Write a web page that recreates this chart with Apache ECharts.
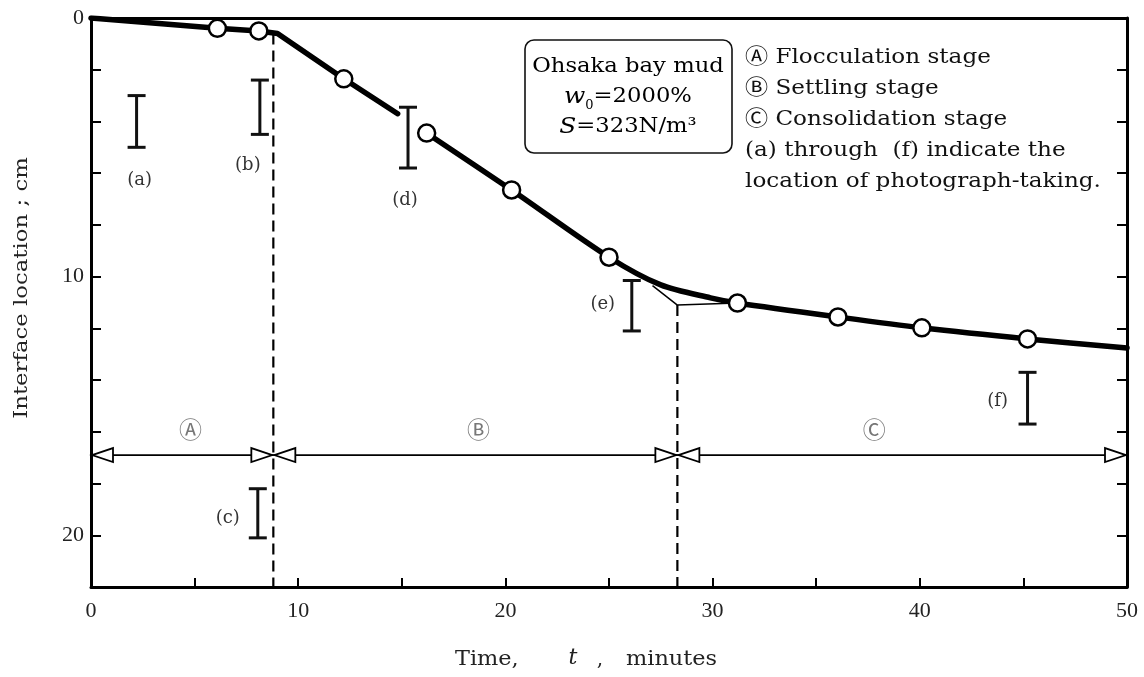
<!DOCTYPE html>
<html>
<head>
<meta charset="utf-8">
<script src="https://cdn.jsdelivr.net/npm/echarts@6/dist/echarts.min.js"></script>
<style>
html,body{margin:0;padding:0;background:#fff;}
#chart{width:1144px;height:677px;}
</style>
</head>
<body>
<div id="chart"></div>
<script>
// ---------- data ----------
const xTickLabels = ['0', '10', '20', '30', '40', '50'];
const yTickLabels = ['0', '10', '20'];

// measured interface positions (open circles)
const measuredTime  = [6.1, 8.1, 12.2, 16.2, 20.3, 25.0, 31.2, 36.05, 40.1, 45.2];
const measuredDepth = [0.4, 0.5, 2.35, 4.45, 6.65, 9.25, 11.02, 11.56, 11.98, 12.41];

// thick settling curve (two pieces, broken at the (d) photograph mark)
const curve1Time  = [0, 6.1, 8.1, 9.0, 12.2, 14.8];
const curve1Depth = [0, 0.4, 0.5, 0.6, 2.35, 3.7];
const curve2Time  = [16.1, 20.3, 25.0, 27.5, 29.9, 31.2, 36.05, 40.1, 45.2, 50];
const curve2Depth = [4.4, 6.65, 9.25, 10.32, 10.82, 11.02, 11.56, 11.98, 12.41, 12.76];

// thin construction line near the settling/consolidation transition
const thinTime  = [27.1, 28.3, 31.2];
const thinDepth = [10.35, 11.1, 11.02];

// photograph-taking locations
const photoLabels = ['(a)', '(b)', '(c)', '(d)', '(e)', '(f)'];
const photoTime   = [2.2, 8.15, 8.05, 15.3, 26.1, 45.2];
const photoTop    = [3.0, 2.4, 18.2, 3.45, 10.15, 13.7];
const photoBottom = [5.0, 4.5, 20.1, 5.8, 12.1, 15.7];

// stage boundaries
const stageBounds      = [0, 8.8, 28.3, 50];
const stageLabels      = ['\u24B6', '\u24B7', '\u24B8'];
const stageLabelTime   = [4.8, 18.7, 37.8];
const stageArrowDepth  = 16.9;
const stageLabelDepth  = 16.0;
const boundaryTopDepth = [0.6, 11.1];

// annotation texts
const noteLines = [
  '\u24B6 Flocculation stage',
  '\u24B7 Settling stage',
  '\u24B8 Consolidation stage',
  '(a) through  (f) indicate the',
  'location of photograph-taking.'
];
const yTitle = 'Interface location ; cm';

// ---------- chart ----------
const serif = "'Liberation Serif', 'DejaVu Serif', serif";
const wserif = "'DejaVu Serif', 'DejaVu Sans', 'Noto Sans CJK JP', serif";
const chart = echarts.init(document.getElementById('chart'));

const zip = (a, b) => a.map((v, i) => [v, b[i]]);

// pixel offsets of the photo labels relative to each bar's middle
const photoLabelOffset = [[3, 59], [-12, 58], [-30, 5], [-3, 63], [-29, -1], [-30, 3]];

const photoData = photoTime.map((t, i) => [t, photoTop[i], photoBottom[i]]);
const stageData = stageBounds.slice(0, -1).map((s, i) => [s, stageBounds[i + 1]]);

const axisLineStyle = { show: true, onZero: false, lineStyle: { color: '#000', width: 3 } };
const thickLine = { color: '#000', width: 5.5, cap: 'round', join: 'round' };

const option = {
  backgroundColor: '#fff',
  animation: false,
  grid: { left: 91, right: 17, top: 18, bottom: 90, containLabel: false },
  xAxis: [{
    type: 'value', min: 0, max: 50, interval: 5, position: 'bottom',
    axisLine: axisLineStyle,
    axisTick: { show: true, inside: true, length: 9, lineStyle: { color: '#000', width: 2 } },
    axisLabel: {
      margin: 13, color: '#222', fontFamily: serif, fontSize: 22,
      formatter: v => (v % 10 === 0 ? xTickLabels[v / 10] : '')
    },
    splitLine: { show: false }
  }, {
    type: 'value', min: 0, max: 50, position: 'top',
    axisLine: axisLineStyle,
    axisTick: { show: false }, axisLabel: { show: false }, splitLine: { show: false }
  }],
  yAxis: [{
    type: 'value', inverse: true, min: 0, max: 22, interval: 2, position: 'left',
    axisLine: axisLineStyle,
    axisTick: { show: true, inside: true, length: 10, lineStyle: { color: '#000', width: 2 } },
    axisLabel: {
      margin: 7, color: '#222', fontFamily: serif, fontSize: 22,
      formatter: v => (v % 10 === 0 ? yTickLabels[v / 10] : '')
    },
    splitLine: { show: false }
  }, {
    type: 'value', inverse: true, min: 0, max: 22, interval: 2, position: 'right',
    axisLine: axisLineStyle,
    axisTick: { show: true, inside: true, length: 10, lineStyle: { color: '#000', width: 2 } },
    axisLabel: { show: false }, splitLine: { show: false }
  }],
  series: [
    // dashed stage boundaries
    {
      type: 'line', xAxisIndex: 0, yAxisIndex: 0, symbol: 'none', silent: true,
      data: [[stageBounds[1], boundaryTopDepth[0]], [stageBounds[1], 22]],
      lineStyle: { color: '#000', width: 2.2, type: [11, 6] }, z: 2
    },
    {
      type: 'line', xAxisIndex: 0, yAxisIndex: 0, symbol: 'none', silent: true,
      data: [[stageBounds[2], boundaryTopDepth[1]], [stageBounds[2], 22]],
      lineStyle: { color: '#000', width: 2.2, type: [11, 6] }, z: 2
    },
    // thin construction line
    {
      type: 'line', symbol: 'none', silent: true,
      data: zip(thinTime, thinDepth),
      lineStyle: { color: '#000', width: 1.5 }, z: 3
    },
    // thick curve, flocculation + early settling (straight pieces)
    {
      type: 'line', symbol: 'none', silent: true,
      data: zip(curve1Time, curve1Depth),
      lineStyle: thickLine, z: 4
    },
    // thick curve, settling + consolidation (smooth bend)
    {
      type: 'line', symbol: 'none', silent: true, smooth: 0.3,
      data: zip(curve2Time, curve2Depth),
      lineStyle: thickLine, z: 4
    },
    // measured points
    {
      type: 'scatter', symbol: 'circle', symbolSize: 17, silent: true,
      data: zip(measuredTime, measuredDepth),
      itemStyle: { color: '#fff', borderColor: '#000', borderWidth: 2.5, opacity: 1 }, z: 5
    },
    // photograph-taking marks
    {
      type: 'custom', silent: true, clip: false,
      encode: { x: 0, y: [1, 2] },
      data: photoData,
      renderItem: function (params, api) {
        const x = api.value(0);
        const a = api.coord([x, api.value(1)]);
        const b = api.coord([x, api.value(2)]);
        const cap = 9;
        const off = photoLabelOffset[params.dataIndex];
        const ls = { stroke: '#111', lineWidth: 3 };
        return {
          type: 'group',
          children: [
            { type: 'line', shape: { x1: a[0], y1: a[1], x2: b[0], y2: b[1] }, style: ls },
            { type: 'line', shape: { x1: a[0] - cap, y1: a[1], x2: a[0] + cap, y2: a[1] }, style: ls },
            { type: 'line', shape: { x1: b[0] - cap, y1: b[1], x2: b[0] + cap, y2: b[1] }, style: ls },
            {
              type: 'text',
              style: {
                text: photoLabels[params.dataIndex],
                x: a[0] + off[0], y: (a[1] + b[1]) / 2 + off[1],
                align: 'center', verticalAlign: 'middle',
                fill: '#333', font: "18px 'DejaVu Serif', serif"
              }
            }
          ]
        };
      },
      z: 6
    },
    // stage arrows
    {
      type: 'custom', silent: true, clip: false,
      encode: { x: [0, 1] },
      data: stageData,
      renderItem: function (params, api) {
        const p1 = api.coord([api.value(0), stageArrowDepth]);
        const p2 = api.coord([api.value(1), stageArrowDepth]);
        const L = 22, H = 7;
        const hs = { stroke: '#000', fill: '#fff', lineWidth: 1.8 };
        return {
          type: 'group',
          children: [
            { type: 'line', shape: { x1: p1[0], y1: p1[1], x2: p2[0], y2: p2[1] }, style: { stroke: '#000', lineWidth: 1.8 } },
            { type: 'polygon', shape: { points: [[p1[0] + 1, p1[1]], [p1[0] + L, p1[1] - H], [p1[0] + L, p1[1] + H]] }, style: hs },
            { type: 'polygon', shape: { points: [[p2[0] - 1, p2[1]], [p2[0] - L, p2[1] - H], [p2[0] - L, p2[1] + H]] }, style: hs }
          ]
        };
      },
      z: 6
    },
    // stage labels
    {
      type: 'scatter', symbolSize: 0, silent: true,
      data: zip(stageLabelTime, stageLabelTime.map(() => stageLabelDepth)).map((p, i) => ({ value: p, name: stageLabels[i] })),
      label: {
        show: true, position: 'inside', formatter: p => p.name,
        color: '#555', fontSize: 23, fontFamily: "'DejaVu Sans', 'Noto Sans CJK JP', sans-serif"
      },
      z: 6
    }
  ],
  graphic: [
    {
      type: 'rect', x: 525, y: 40, z: 10,
      shape: { x: 0, y: 0, width: 207, height: 113, r: 9 },
      style: { fill: '#fff', stroke: '#111', lineWidth: 1.6 }
    },
    {
      type: 'text', z: 11, x: 628, y: 97, scaleX: 1.08,
      style: {
        text: '{r|Ohsaka bay mud}\n{i|w}{s|0}{r|=2000%}\n{i|S}{r|=323N/m³}',
        x: 0, y: 0, align: 'center', verticalAlign: 'middle',
        rich: {
          r: { fontFamily: wserif, fontSize: 21, color: '#111', lineHeight: 30 },
          i: { fontFamily: wserif, fontSize: 23, fontStyle: 'italic', color: '#111', lineHeight: 30 },
          s: { fontFamily: wserif, fontSize: 12, color: '#111', verticalAlign: 'bottom', lineHeight: 30 }
        }
      }
    },
    ...noteLines.map((t, i) => ({
      type: 'text', z: 11, x: 745, y: 58 + i * 30.8, scaleX: 1.1,
      style: {
        text: t, x: 0, y: 0, verticalAlign: 'middle', align: 'left',
        fill: '#111', font: "21px 'DejaVu Serif', 'DejaVu Sans', 'Noto Sans CJK JP', serif"
      }
    })),
    // axis titles
    {
      type: 'text', z: 11, x: 22, y: 288, rotation: Math.PI / 2, scaleX: 1.2,
      style: {
        text: yTitle, x: 0, y: 0, align: 'center', verticalAlign: 'middle',
        fill: '#222', font: "19px 'DejaVu Serif', serif"
      }
    },
    {
      type: 'text', z: 11, x: 455, y: 660, scaleX: 1.12,
      style: { text: 'Time,', x: 0, y: 0, align: 'left', verticalAlign: 'middle', fill: '#222', font: "20px 'DejaVu Serif', serif" }
    },
    {
      type: 'text', z: 11, x: 573, y: 658,
      style: { text: 't', x: 0, y: 0, align: 'center', verticalAlign: 'middle', fill: '#222', font: "italic 22px 'DejaVu Serif', serif" }
    },
    {
      type: 'text', z: 11, x: 600, y: 660,
      style: { text: ',', x: 0, y: 0, align: 'center', verticalAlign: 'middle', fill: '#222', font: "20px 'DejaVu Serif', serif" }
    },
    {
      type: 'text', z: 11, x: 626, y: 660, scaleX: 1.12,
      style: { text: 'minutes', x: 0, y: 0, align: 'left', verticalAlign: 'middle', fill: '#222', font: "20px 'DejaVu Serif', serif" }
    }
  ]
};
chart.setOption(option);
</script>
</body>
</html>
